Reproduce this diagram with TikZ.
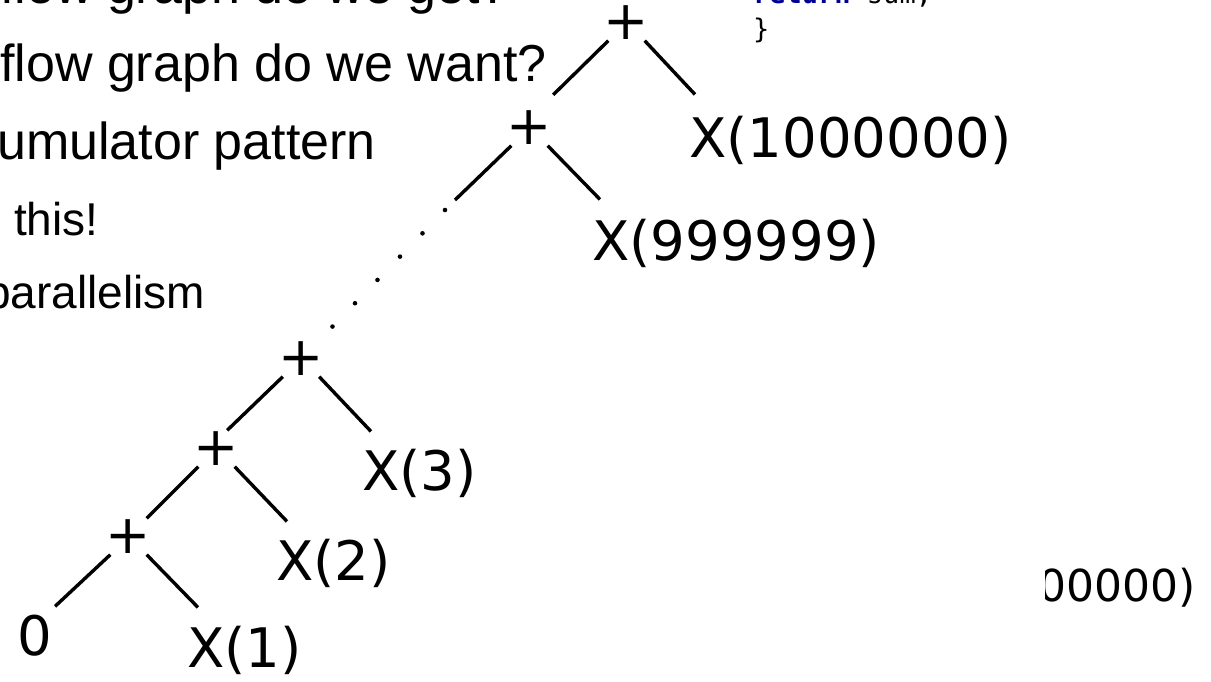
\documentclass[tikz,border=0pt]{standalone}
\usepackage{fontspec}
\setmainfont{Liberation Sans}
\newfontfamily\treefont{DejaVu Sans}
\newfontfamily\codefont{DejaVu Sans Mono}
\definecolor{kwblue}{RGB}{0,0,150}
\begin{document}
\begin{tikzpicture}[x=1pt,y=-1pt,
  bul/.style={anchor=base west,inner sep=0,font=\fontsize{52}{60}\selectfont},
  subbul/.style={anchor=base west,inner sep=0,font=\fontsize{46}{54}\selectfont},
  op/.style={minimum size=36pt,inner sep=0,font=\treefont\fontsize{54}{60}\selectfont},
  leaf/.style={anchor=base west,inner sep=0,font=\treefont\fontsize{54.5}{60}\selectfont},
  code/.style={anchor=base west,inner sep=0,font=\codefont\fontsize{27}{32}\selectfont},
  edgeline/.style={line width=3.4pt},
  dotline/.style={line width=4.6pt,line cap=round,dash pattern=on 0pt off 32.4pt}]
\useasboundingbox (0,0) rectangle (1211,681);
\fill[white] (0,0) rectangle (1211,681);

% slide text (cropped)
\node[bul] (t1) at (0,3) {flow graph do we get?};
\node[bul] (t2) at (0,81) {flow graph do we want?};
\node[bul] (t3) at (-3,159) {umulator pattern};
\node[subbul] (t4) at (14,235) {this!};
\node[subbul] (t5) at (-15,308) {parallelism};

% code fragment
\node[code] (ret) at (753,3) {{\bfseries\color{kwblue}return} sum;};
\node[code] (brace) at (753,38) {\}};

% operator nodes
\node[op] (P1) at (626.5,22.5) {\makebox[0pt]{+}};
\node[op] (P2) at (529.5,127.5) {\makebox[0pt]{+}};
\node[op] (P3) at (301,358.5) {\makebox[0pt]{+}};
\node[op] (P4) at (216.5,448.5) {\makebox[0pt]{+}};
\node[op] (P5) at (128.5,536.5) {\makebox[0pt]{+}};

% leaves
\node[leaf] (LM) at (689,157) {X(1000000)};
\node[leaf] (L999) at (592,260) {X(999999)};
\node[leaf] (L3) at (362,490) {X(3)};
\node[leaf] (L2) at (276,580) {X(2)};
\node[leaf] (L1) at (187,667) {X(1)};
\node[leaf] (L0) at (17,655) {0};

\coordinate (dotsA) at (455,200);

% edges
\draw[edgeline] (P1.south west) -- ([shift={(5.5,-14.5)}]P2.north east);
\draw[edgeline] (P1.south east) -- ([shift={(6,-21)}]LM.north west);
\draw[edgeline] (P2.south west) -- (dotsA);
\draw[edgeline] (P2.south east) -- ([shift={(8,-19)}]L999.north west);
\draw[dotline] ([shift={(-10,10)}]dotsA) -- (P3.north east);
\draw[edgeline] (P3.south west) -- ([shift={(-7.5,0)}]P4.north east);
\draw[edgeline] (P3.south east) -- ([shift={(9,-17)}]L3.north west);
\draw[edgeline] (P4.south west) -- (P5.north east);
\draw[edgeline] (P4.south east) -- ([shift={(11,-17)}]L2.north west);
\draw[edgeline] (P5.south west) -- ([shift={(3,-8)}]L0.north east);
\draw[edgeline] (P5.south east) -- ([shift={(11,-18)}]L1.north west);

% cropped label at bottom right
\begin{scope}
\clip (1045,540) rectangle (1211,640);
\node[anchor=base east,inner sep=0,font=\treefont\fontsize{44}{50}\selectfont] (Lpart) at (1196,601) {X(1000000)};
\end{scope}
\end{tikzpicture}
\end{document}
